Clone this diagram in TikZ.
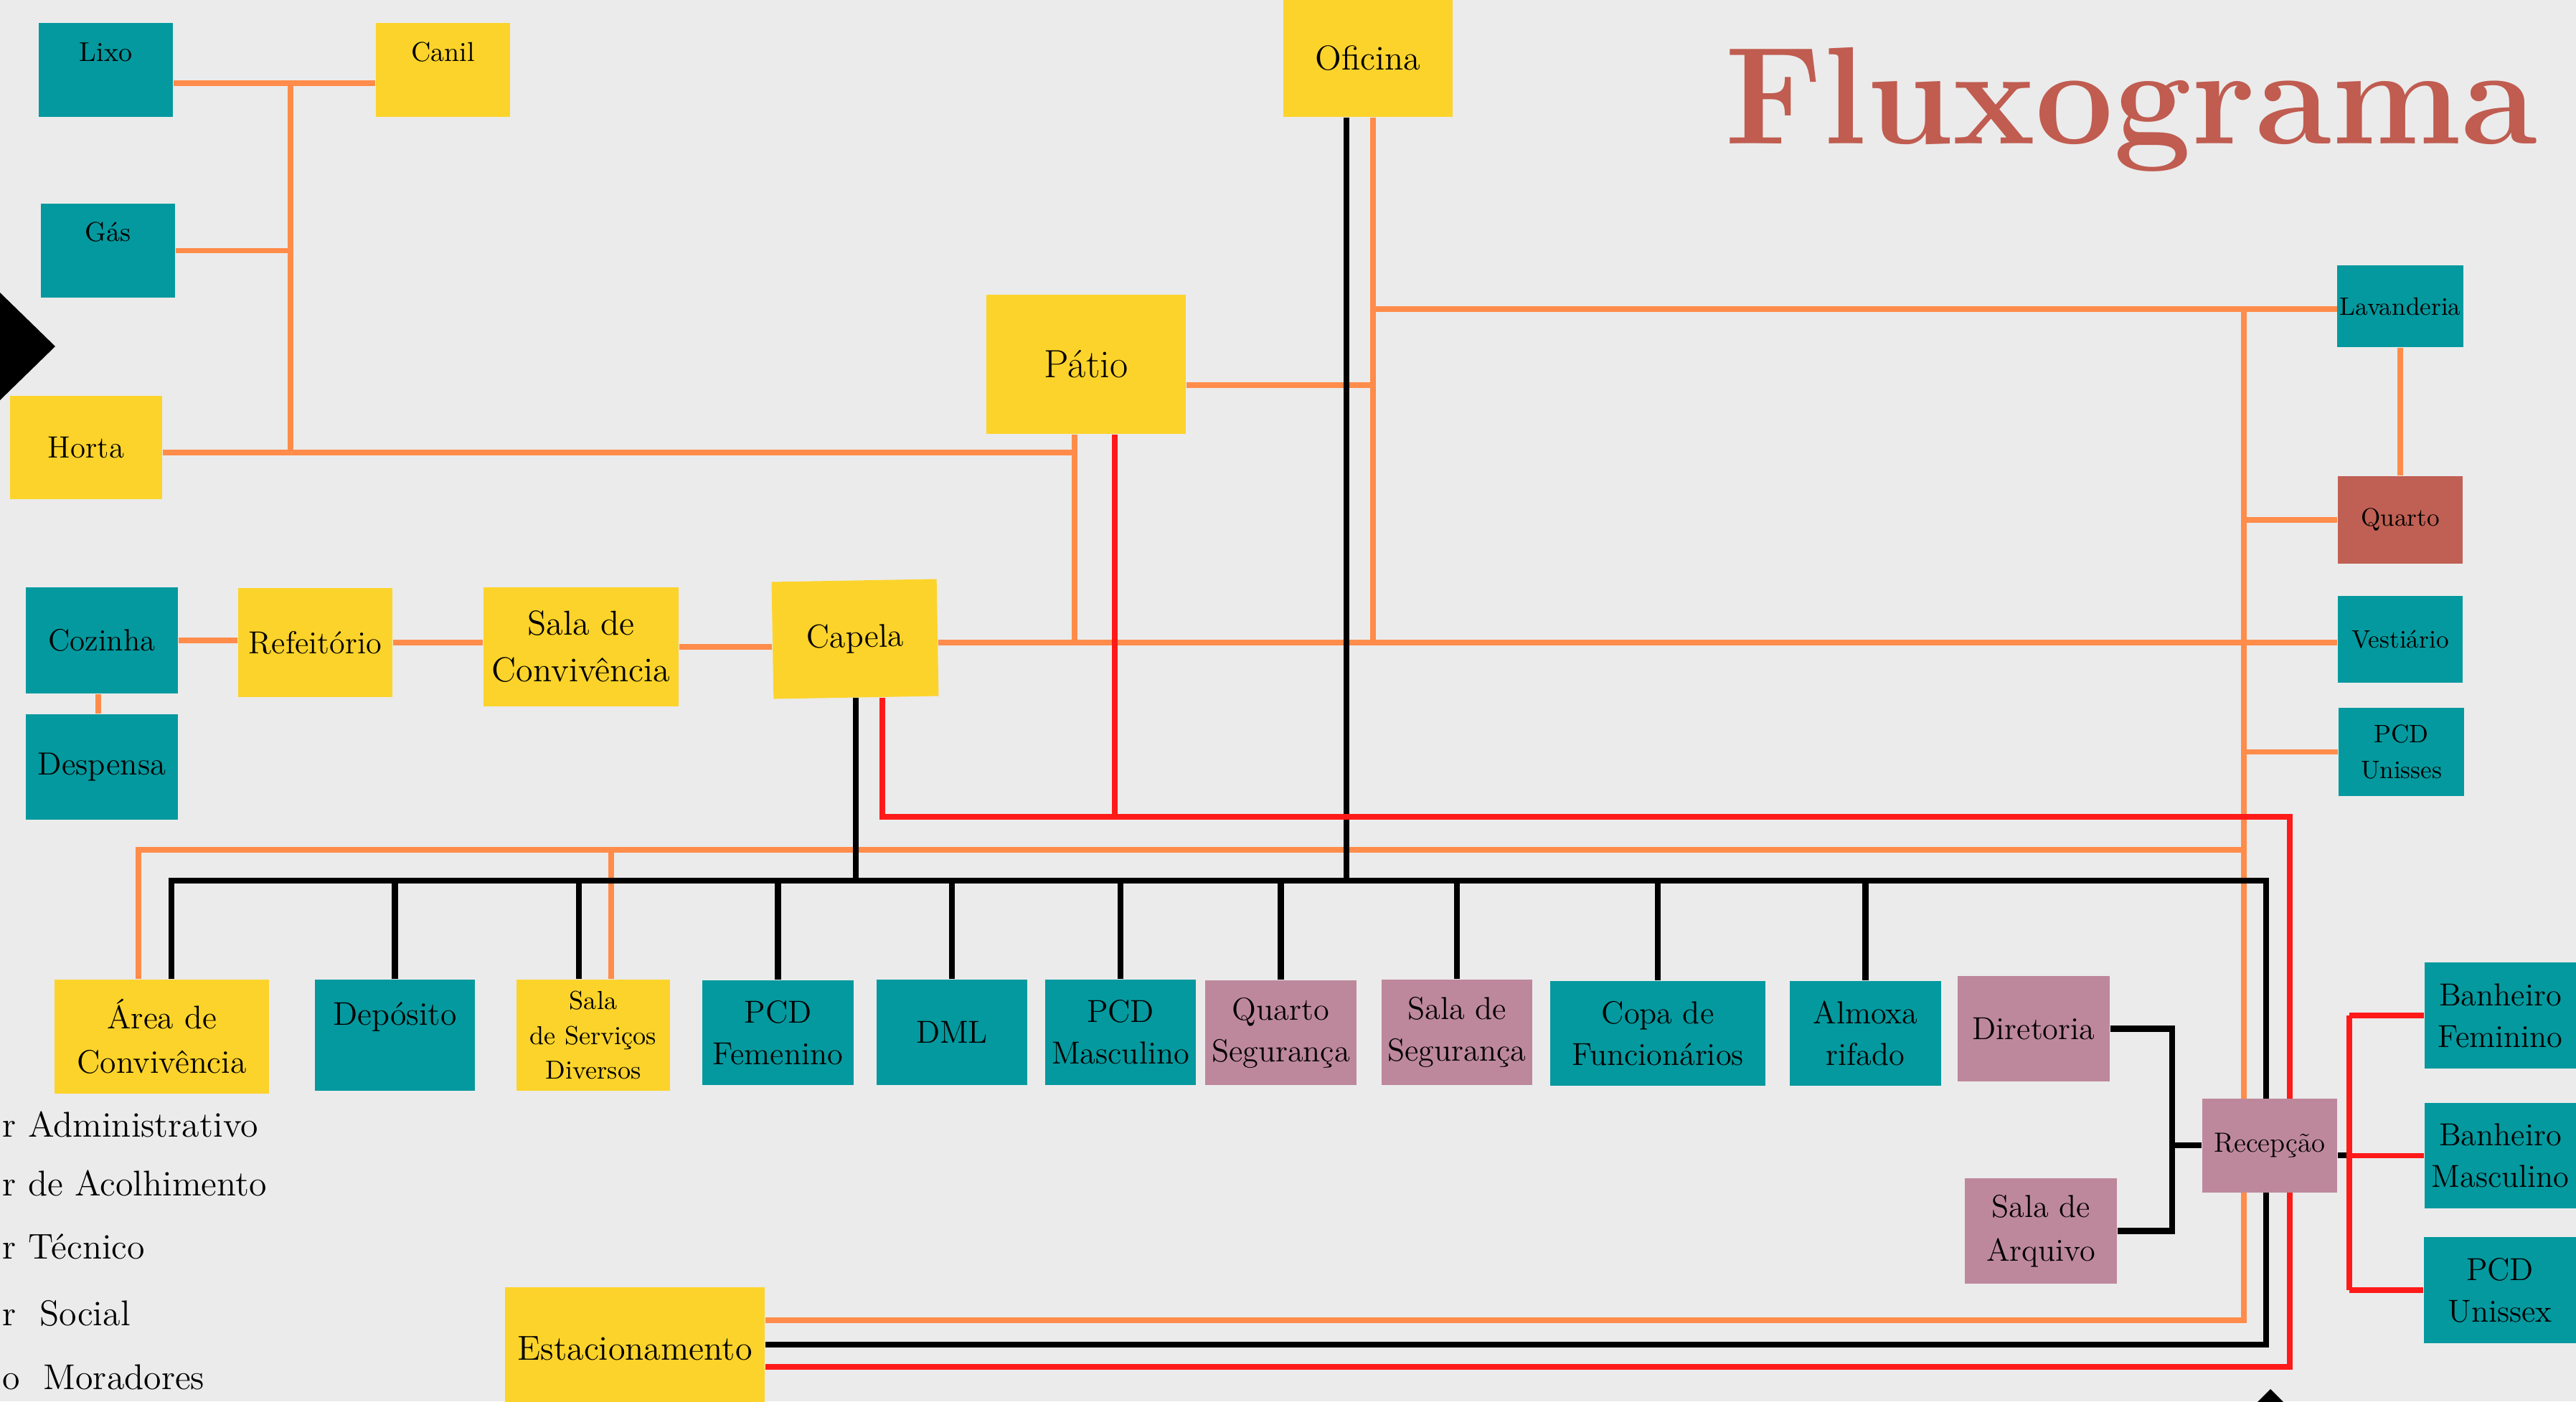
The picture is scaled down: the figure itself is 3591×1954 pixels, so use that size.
\documentclass[tikz,border=0pt]{standalone}
\usepackage{fontspec}
\usetikzlibrary{positioning}

\definecolor{corfundo}{HTML}{EBEBEB}
\definecolor{corverde}{HTML}{04999E}
\definecolor{coramarelo}{HTML}{FCD32A}
\definecolor{corrosa}{HTML}{BE889C}
\definecolor{corquarto}{HTML}{C05F53}
\definecolor{cortitulo}{HTML}{C05C50}
\definecolor{corlaranja}{HTML}{FF8C4A}
\definecolor{corvermelho}{HTML}{FF1A1A}

\pgfdeclarelayer{papel}
\pgfdeclarelayer{linhas}
\pgfsetlayers{papel,linhas,main}

\begin{document}
\begin{tikzpicture}[x=0.01cm, y=-0.01cm,
    sala/.style={rectangle, inner sep=1pt, align=center, text=black,
                 font=\fontsize{12.6}{16.5}\selectfont},
    miuda/.style={font=\fontsize{10.8}{13}\selectfont},
    lado/.style={font=\fontsize{10}{14}\selectfont},
    legenda/.style={anchor=base west, inner sep=0pt, font=\fontsize{14.2}{17}\selectfont},
    laranja/.style={draw=corlaranja, line width=2.1pt},
    preto/.style={draw=black, line width=2.3pt},
    vermelho/.style={draw=corvermelho, line width=2.1pt}]

\useasboundingbox (0,0) rectangle (3591,1954);
\begin{pgfonlayer}{papel}
  \fill[corfundo] (0,0) rectangle (3591,1954);
\end{pgfonlayer}

% titulo
\node[anchor=base west, inner sep=0pt, text=cortitulo,
      font=\fontsize{55}{60}\selectfont\bfseries\addfontfeature{FakeBold=1.5}] (titulo) at (2404,200) {Fluxograma};

% canto superior esquerdo
\node[sala, fill=corverde, minimum width=1.87cm, minimum height=1.31cm] (lixo) at (147.5,97.5) {};
\node[anchor=base, miuda] (lixot) at ([yshift=-5.4mm]lixo.north) {Lixo};
\node[sala, fill=coramarelo, minimum width=1.87cm, minimum height=1.31cm] (canil) at (617.5,97.5) {};
\node[anchor=base, miuda] (canilt) at ([yshift=-5.4mm]canil.north) {Canil};
\node[sala, fill=corverde, minimum width=1.87cm, minimum height=1.31cm] (gas) at (150.5,349.5) {};
\node[anchor=base, miuda] (gast) at ([yshift=-5.3mm]gas.north) {Gás};
\node[sala, fill=coramarelo, minimum width=2.12cm, minimum height=1.44cm,
      font=\fontsize{12.2}{15}\selectfont] (horta) at (120,624) {Horta};

% centro
\node[sala, fill=coramarelo, minimum width=2.78cm, minimum height=1.94cm,
      font=\fontsize{15.6}{18}\selectfont] (patio) at (1514,508) {Pátio};
\node[sala, fill=coramarelo, minimum width=2.36cm, minimum height=1.63cm,
      font=\fontsize{13.7}{16}\selectfont] (oficina) at (1907,81.5) {Oficina};

% coluna da direita
\node[sala, lado, fill=corverde, minimum width=1.62cm, minimum height=1.14cm] (lavanderia) at (3346,427) {Lavanderia};
\node[sala, lado, fill=corquarto, minimum width=1.74cm, minimum height=1.22cm] (quarto) at (3346,725) {Quarto};
\node[sala, lado, fill=corverde, minimum width=1.74cm, minimum height=1.21cm] (vestiario) at (3346,891.5) {Vestiário};
\node[sala, lado, fill=corverde, minimum width=1.75cm, minimum height=1.23cm] (pcdu) at (3347.5,1048.5) {PCD\\Unisses};

% linha da capela
\node[sala, fill=corverde, minimum width=2.12cm, minimum height=1.48cm,
      font=\fontsize{12.2}{15}\selectfont] (cozinha) at (142,893) {Cozinha};
\node[sala, fill=corverde, minimum width=2.12cm, minimum height=1.47cm,
      font=\fontsize{12.7}{15}\selectfont] (despensa) at (142,1069.5) {Despensa};
\node[sala, fill=coramarelo, minimum width=2.15cm, minimum height=1.52cm] (refeitorio) at (439.5,896) {Refeitório};
\node[sala, fill=coramarelo, minimum width=2.72cm, minimum height=1.66cm,
      font=\fontsize{13.7}{18.5}\selectfont] (sconv) at (810,902) {Sala de\\Convivência};
\node[sala, fill=coramarelo, minimum width=2.30cm, minimum height=1.63cm, rotate=1,
      font=\fontsize{13}{16}\selectfont] (capela) at (1192,891) {Capela};

% fileira de baixo
\node[sala, fill=coramarelo, minimum width=2.99cm, minimum height=1.59cm,
      font=\fontsize{13}{17.6}\selectfont] (area) at (225.5,1445.5) {Área de\\Convivência};
\node[sala, fill=corverde, minimum width=2.23cm, minimum height=1.55cm] (deposito) at (550.5,1443.5) {};
\node[anchor=base, font=\fontsize{13}{16}\selectfont] (depositot) at ([yshift=-6.4mm]deposito.north) {Depósito};
\node[sala, fill=coramarelo, minimum width=2.14cm, minimum height=1.55cm,
      font=\fontsize{10.3}{13.7}\selectfont] (sserv) at (827,1443.5) {Sala\\de Serviços\\Diversos};
\node[sala, fill=corverde, minimum width=2.11cm, minimum height=1.46cm] (pcdf) at (1084.5,1440) {PCD\\Femenino};
\node[sala, fill=corverde, minimum width=2.10cm, minimum height=1.47cm] (dml) at (1327,1439.5) {DML};
\node[sala, fill=corverde, minimum width=2.10cm, minimum height=1.47cm] (pcdm) at (1562,1439.5) {PCD\\Masculino};
\node[sala, fill=corrosa, minimum width=2.11cm, minimum height=1.46cm] (qseg) at (1785.5,1440) {Quarto\\Segurança};
\node[sala, fill=corrosa, minimum width=2.10cm, minimum height=1.47cm] (sseg) at (2031,1439.5) {Sala de\\Segurança};
\node[sala, fill=corverde, minimum width=3.00cm, minimum height=1.46cm] (copa) at (2311,1441) {Copa de\\Funcionários};
\node[sala, fill=corverde, minimum width=2.11cm, minimum height=1.46cm] (almox) at (2600.5,1441) {Almoxa\\rifado};
\node[sala, fill=corrosa, minimum width=2.12cm, minimum height=1.47cm] (diretoria) at (2835,1434.5) {Diretoria};

% recepcao e banheiros
\node[sala, fill=corrosa, minimum width=2.12cm, minimum height=1.47cm,
      font=\fontsize{12.6}{17.4}\selectfont] (arquivo) at (2845,1716.5) {Sala de\\Arquivo};
\node[sala, fill=corrosa, minimum width=1.88cm, minimum height=1.31cm,
      font=\fontsize{11}{14}\selectfont] (recepcao) at (3164,1597.5) {Recepção};
\node[sala, fill=corverde, minimum width=2.11cm, minimum height=1.48cm] (bfem) at (3485.5,1416) {Banheiro\\Feminino};
\node[sala, fill=corverde, minimum width=2.11cm, minimum height=1.47cm] (bmasc) at (3485.5,1611.5) {Banheiro\\Masculino};
\node[sala, fill=corverde, minimum width=2.12cm, minimum height=1.48cm] (pcdx) at (3485,1799) {PCD\\Unissex};

\node[sala, fill=coramarelo, minimum width=3.62cm, minimum height=1.70cm,
      font=\fontsize{13.7}{16}\selectfont] (estac) at (885,1880) {Estacionamento};

% legenda na borda
\node[legenda] (leg1) at (3,1585) {r Administrativo};
\node[legenda] (leg2) at (3,1667) {r de Acolhimento};
\node[legenda] (leg3) at (3,1755) {r Técnico};
\node[legenda] (leg4) at (3,1848) {r~~Social};
\node[legenda] (leg5) at (3,1937) {o~~Moradores};

% losangos pretos
\fill[black] (0,408) -- (77,483) -- (0,558) -- (-77,483) -- cycle;
\fill[black] (3165,1937) -- (3240,2012) -- (3165,2087) -- (3090,2012) -- cycle;

% pontos de juncao
\coordinate (vl) at (405,116);
\coordinate (vp) at (1498,631);
\coordinate (vo) at (1914,537);
\coordinate (vc) at (1914,896);
\coordinate (vr) at (3128,431);
\coordinate (so) at (3128,1841);
\coordinate (bo) at (193,1185);
\coordinate (bs) at (852,1185);
\coordinate (bk) at (239,1228);
\coordinate (bsv) at (807,1228);
\coordinate (vk) at (1877,1228);
\coordinate (sk) at (3159,1875);
\coordinate (rd) at (1230,1139);
\coordinate (rp) at (1554,1139);
\coordinate (sr) at (3192,1906);
\coordinate (bd) at (3028,1597);
\coordinate (br) at (3275,1611);

\begin{pgfonlayer}{linhas}
  % laranja
  \draw[laranja] (lixo.east |- vl) -- (canil.west |- vl);
  \draw[laranja] (vl) -- (vl |- vp);
  \draw[laranja] (gas.east) -- (gas.east -| vl);
  \draw[laranja] (horta.east |- vp) -- (vp);
  \draw[laranja] (patio.south -| vp) -- (vp |- vc);
  \draw[laranja] (patio.east |- vo) -- (vo);
  \draw[laranja] (oficina.south -| vo) -- (vc);
  \draw[laranja] (capela.east |- vc) -- (vestiario.west |- vc);
  \draw[laranja] (vo |- vr) -- (lavanderia.west |- vr);
  \draw[laranja] (lavanderia.south) -- (quarto.north);
  \draw[laranja] (vr |- quarto.west) -- (quarto.west);
  \draw[laranja] (vr |- pcdu.west) -- (pcdu.west);
  \draw[laranja] (vr) -- (so) -- (estac.east |- so);
  \draw[laranja] (bo |- area.north) -- (bo) -- (bo -| vr);
  \draw[laranja] (bs) -- (bs |- sserv.north);
  \draw[laranja] (cozinha.east) -- (refeitorio.west |- cozinha.east);
  \draw[laranja] (refeitorio.east) -- (sconv.west |- refeitorio.east);
  \draw[laranja] (sconv.east) -- (capela.west |- sconv.east);
  \draw[laranja] ([xshift=-0.5mm]cozinha.south) -- ([xshift=-0.5mm]despensa.north);

  % preto
  \draw[preto] (oficina.south -| vk) -- (vk);
  \draw[preto] (capela.south) -- (capela.south |- bk);
  \draw[preto] (bk |- area.north) -- (bk) -- (bk -| sk) -- (sk) -- (estac.east |- sk);
  \draw[preto] (bsv) -- (bsv |- sserv.north);
  \foreach \s in {deposito,pcdf,dml,pcdm,qseg,sseg,copa,almox}
    \draw[preto] (\s.north |- bk) -- (\s.north);
  \draw[preto] (diretoria.east) -| (bd) -- (recepcao.west |- bd);
  \draw[preto] (arquivo.east) -| (bd);
  \draw[preto] (recepcao.east |- br) -- (br);

  % vermelho
  \draw[vermelho] (capela.south -| rd) -- (rd) -- (rd -| sr) -- (sr) -- (estac.east |- sr);
  \draw[vermelho] (patio.south -| rp) -- (rp);
  \draw[vermelho] (bfem.west -| br) -- (pcdx.west -| br);
  \foreach \s in {bfem,bmasc,pcdx}
    \draw[vermelho] (\s.west -| br) -- (\s.west);
\end{pgfonlayer}

\end{tikzpicture}
\end{document}
